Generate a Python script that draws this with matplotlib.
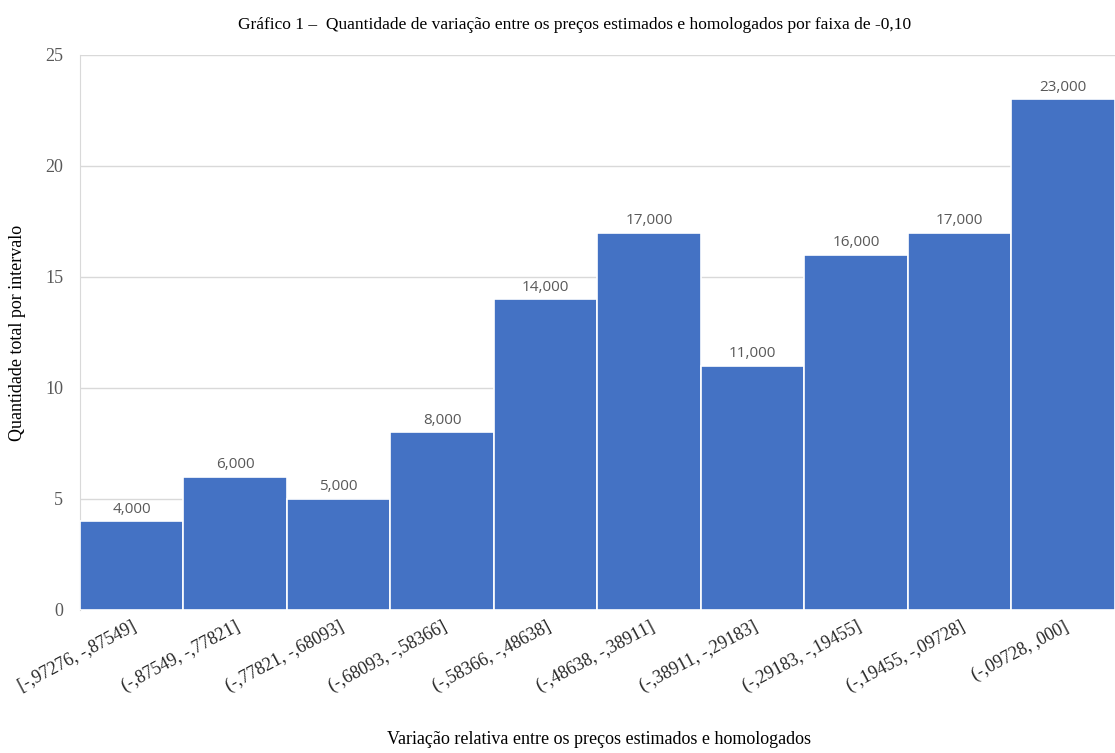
import matplotlib.pyplot as plt

faixas = ['[-,97276, -,87549]', '(-,87549, -,77821]', '(-,77821, -,68093]',
          '(-,68093, -,58366]', '(-,58366, -,48638]', '(-,48638, -,38911]',
          '(-,38911, -,29183]', '(-,29183, -,19455]', '(-,19455, -,09728]',
          '(-,09728, ,000]']
quantidade = [4, 6, 5, 8, 14, 17, 11, 16, 17, 23]

serif = ['Liberation Serif', 'DejaVu Serif']
cinza = '#595959'

fig = plt.figure(figsize=(11.15, 7.53), dpi=100)
ax = fig.add_axes([0.0717, 0.19, 0.9283, 0.737])

x = range(len(quantidade))
bars = ax.bar(x, quantidade, width=1.0, color='#4472C4', edgecolor='white',
              linewidth=1.2, zorder=3)

for b, v in zip(bars, quantidade):
    ax.text(b.get_x() + b.get_width() / 2, v + 0.2, f'{v},000',
            ha='center', va='bottom', fontsize=11, color=cinza,
            family=['Open Sans', 'DejaVu Sans'])

ax.set_xlim(-0.5, len(quantidade) - 0.5)
ax.set_ylim(0, 25)
ax.set_yticks([0, 5, 10, 15, 20, 25])
ax.set_xticks(list(x))
ax.set_xticklabels(faixas, rotation=28, ha='right', rotation_mode='anchor')
for t in ax.get_xticklabels():
    t.set_fontfamily(serif)
    t.set_fontsize(13)
    t.set_color('#262626')
for t in ax.get_yticklabels():
    t.set_fontfamily(serif)
    t.set_fontsize(13)
    t.set_color(cinza)

ax.grid(axis='y', color='#d9d9d9', linewidth=1, zorder=0)
for s in ['top', 'right', 'bottom']:
    ax.spines[s].set_visible(False)
ax.spines['left'].set_color('#d9d9d9')
ax.tick_params(axis='y', length=0, pad=12)
ax.tick_params(axis='x', length=0, pad=6)

ax.set_ylabel('Quantidade total por intervalo', family=serif, fontsize=13,
              color='black', labelpad=14)
fig.text(0.537, 0.012, 'Variação relativa entre os preços estimados e homologados',
         ha='center', family=serif, fontsize=13)
fig.text(0.515, 0.962,
         'Gráfico 1 –  Quantidade de variação entre os preços estimados e homologados por faixa de -0,10',
         ha='center', family=serif, fontsize=12.5)

fig.savefig('out.png', dpi=100)
